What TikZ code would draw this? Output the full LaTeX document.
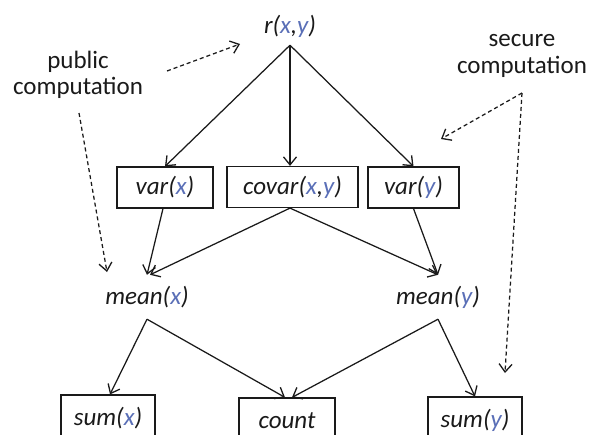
\documentclass[tikz,border=0pt]{standalone}
\usepackage{fontspec}
\setmainfont{Carlito}
\usetikzlibrary{arrows.meta}
\definecolor{varblue}{HTML}{5A6FB7}
\definecolor{ink}{HTML}{1A1A1A}
\newcommand{\vxx}{\textcolor{varblue}{x}}
\newcommand{\vyy}{\textcolor{varblue}{y}}
\begin{document}
\begin{tikzpicture}[x=1pt,y=-1pt,
  every node/.style={text=ink},
  box/.style={draw=ink, line width=1.2pt, inner sep=0pt, minimum height=41pt,
    font=\fontsize{25}{28}\selectfont\itshape},
  lbl/.style={inner sep=0pt, font=\fontsize{25}{28}\selectfont\itshape},
  note/.style={inner sep=0pt, align=center, font=\fontsize{25}{26.5}\selectfont},
  arr/.style={draw=ink, -{Straight Barb[length=8pt,width=13pt,line width=1.3pt]}, line width=1.25pt},
  dsh/.style={arr, dash pattern=on 4pt off 3pt}]
\useasboundingbox (0,0) rectangle (591,434);
\fill[white] (0,0) rectangle (591,434);
\clip (0,0) rectangle (591,434);

% nodes
\node[lbl, minimum height=38pt] (r) at (290,26) {r(\vxx,\vyy)};
\node[box, minimum width=96pt] (vx) at (165,187.5) {var(\vxx)};
\node[box, minimum width=131pt] (cov) at (292.5,187) {covar(\vxx,\vyy)};
\node[box, minimum width=91pt] (vy) at (413.5,187.5) {var(\vyy)};
\node[lbl, minimum height=44pt] (mx) at (147,297) {mean(\vxx)};
\node[lbl, minimum height=44pt] (my) at (438,297) {mean(\vyy)};
\node[box, minimum width=94pt, minimum height=46pt] (sx) at (108,418) {sum(\vxx)};
\node[box, minimum width=96pt, minimum height=46pt] (cnt) at (287,421) {count};
\node[box, minimum width=94pt, minimum height=46pt] (sy) at (475,420) {sum(\vyy)};

\node[note] (pub) at (78,75) {public\\computation};
\node[note] (sec) at (522,56) {secure\\computation};

% solid connectors
\draw[arr] (r.south) -- (vx.north);
\draw[arr] (r.south) -- (r.south |- cov.north);
\draw[arr] (r.south) -- (vy.north);
\draw[arr] ([xshift=-2pt]vx.south) -- (mx.north);
\draw[arr] ([xshift=-2.5pt]cov.south) -- ([xshift=3pt]mx.north);
\draw[arr] ([xshift=-2.5pt]cov.south) -- (my.north);
\draw[arr] (vy.south) -- (my.north);
\draw[arr] (mx.south) -- ([xshift=2pt]sx.north);
\draw[arr] (mx.south) -- ([xshift=-2pt]cnt.north);
\draw[arr] (my.south) -- ([xshift=5pt]cnt.north);
\draw[arr] (my.south) -- (sy.north);

% dashed annotation arrows
\coordinate (p1) at (167,71);
\coordinate (p1e) at (240,44);
\coordinate (p2) at (79,113);
\coordinate (p2e) at (107,272);
\coordinate (s0) at (522,93);
\coordinate (s1e) at (441,139);
\coordinate (s2e) at (505,373);
\draw[dsh] (p1) -- (p1e);
\draw[dsh] (p2) -- (p2e);
\draw[dsh] (s0) -- (s1e);
\draw[dsh] (s0) -- (s2e);
\end{tikzpicture}
\end{document}
